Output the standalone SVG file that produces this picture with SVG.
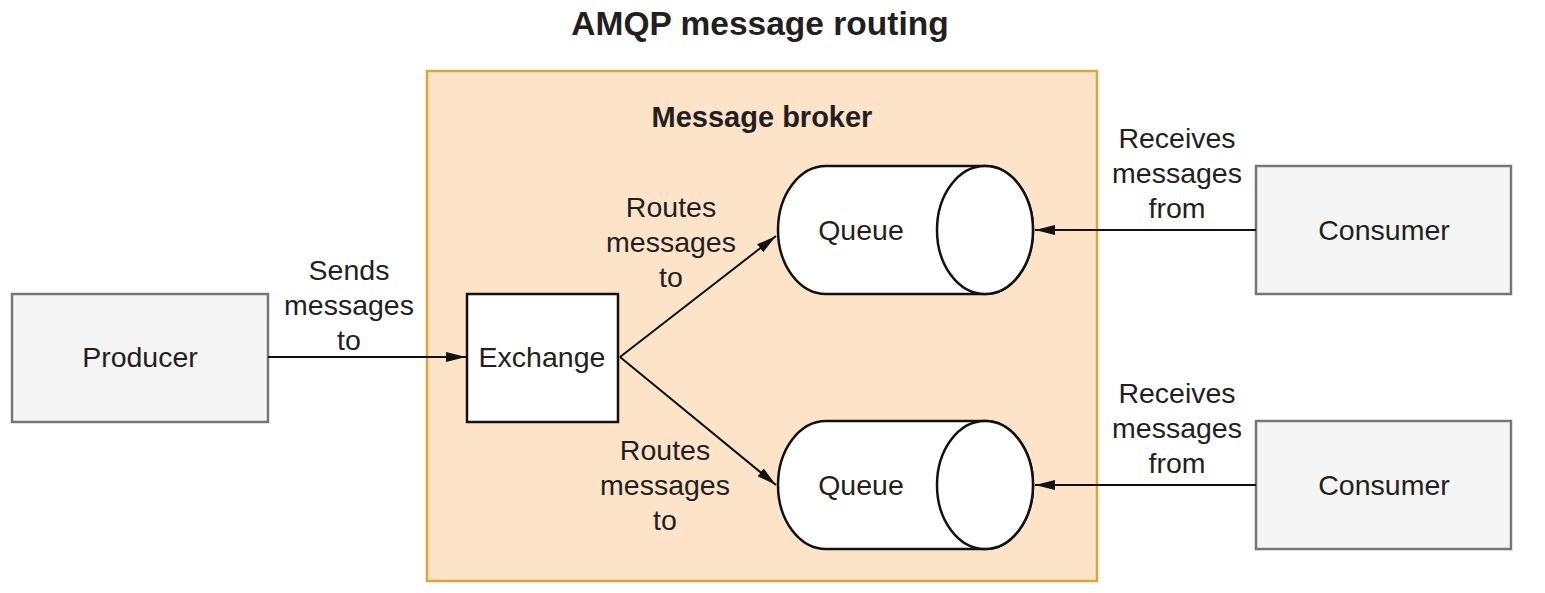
<svg xmlns="http://www.w3.org/2000/svg" width="1545" height="593" viewBox="0 0 1545 593">
<style>
text{font-family:"Liberation Sans",Arial,sans-serif;fill:#231f20;text-anchor:middle}
.t{font-size:28.5px}
.b{font-weight:bold}
.ext{fill:#f4f5f4;stroke:#777;stroke-width:2.5}
.int{fill:#fff;stroke:#111;stroke-width:2.5}
.c{stroke:#111;stroke-width:2;fill:none}
</style>
<defs>
<marker id="ah" viewBox="0 0 20 10" refX="20" refY="5" markerWidth="20" markerHeight="10" markerUnits="userSpaceOnUse" orient="auto">
<path d="M0,0 L20,5 L0,10 Z" fill="#111"/>
</marker>
</defs>
<rect width="1545" height="593" fill="#fff"/>
<text class="b" x="760" y="35" font-size="33.5">AMQP message routing</text>
<g id="broker">
<rect x="427" y="71" width="670" height="510" fill="#fde4c9" stroke="#d9a63a" stroke-width="2.5"/>
<text class="b" x="762" y="127" font-size="29">Message broker</text>
</g>
<g id="producer">
<rect class="ext" x="12" y="294" width="256" height="128"/>
<text class="t" x="140" y="367">Producer</text>
</g>
<g id="exchange">
<rect class="int" x="467" y="294" width="151" height="128"/>
<text class="t" x="542" y="367">Exchange</text>
</g>
<g id="queue1">
<path class="int" d="M826,166 L985,166 A48,64 0 0 1 985,294 L826,294 A48,64 0 0 1 826,166 Z"/>
<ellipse class="int" cx="985" cy="230" rx="48" ry="64"/>
<text class="t" x="861" y="240">Queue</text>
</g>
<g id="queue2">
<path class="int" d="M826,421 L985,421 A48,64 0 0 1 985,549 L826,549 A48,64 0 0 1 826,421 Z"/>
<ellipse class="int" cx="985" cy="485" rx="48" ry="64"/>
<text class="t" x="861" y="495">Queue</text>
</g>
<g id="consumer1">
<rect class="ext" x="1256" y="166" width="255" height="128"/>
<text class="t" x="1384" y="240">Consumer</text>
</g>
<g id="consumer2">
<rect class="ext" x="1256" y="421" width="255" height="128"/>
<text class="t" x="1384" y="495">Consumer</text>
</g>
<g id="connectors">
<line class="c" x1="268" y1="357" x2="466" y2="357" marker-end="url(#ah)"/>
<line class="c" x1="620" y1="357" x2="776" y2="236" marker-end="url(#ah)"/>
<line class="c" x1="620" y1="357" x2="776" y2="485" marker-end="url(#ah)"/>
<line class="c" x1="1256" y1="230" x2="1035" y2="230" marker-end="url(#ah)"/>
<line class="c" x1="1256" y1="485" x2="1035" y2="485" marker-end="url(#ah)"/>
</g>
<g id="labels" class="t">
<text class="t" x="349" y="280">Sends</text>
<text class="t" x="349" y="315">messages</text>
<text class="t" x="349" y="350">to</text>
<text class="t" x="671" y="217">Routes</text>
<text class="t" x="671" y="252">messages</text>
<text class="t" x="671" y="287">to</text>
<text class="t" x="665" y="460">Routes</text>
<text class="t" x="665" y="495">messages</text>
<text class="t" x="665" y="530">to</text>
<text class="t" x="1177" y="148">Receives</text>
<text class="t" x="1177" y="183">messages</text>
<text class="t" x="1177" y="218">from</text>
<text class="t" x="1177" y="403">Receives</text>
<text class="t" x="1177" y="438">messages</text>
<text class="t" x="1177" y="473">from</text>
</g>
</svg>
